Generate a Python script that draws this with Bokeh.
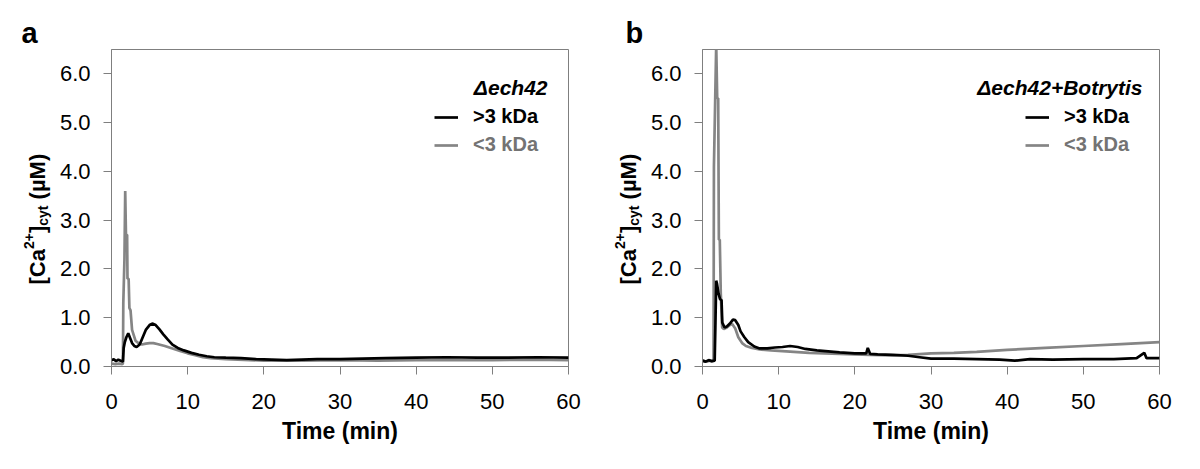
import math
from bokeh.plotting import figure
from bokeh.layouts import row
from bokeh.models import (Label, Legend, LegendItem, FixedTicker,
                          PrintfTickFormatter, Range1d, Title)
from bokeh.embed import file_html
from bokeh.resources import INLINE

# ---------------- data ----------------
x_ticks = [0, 10, 20, 30, 40, 50, 60]
y_ticks = [0, 1, 2, 3, 4, 5, 6]

# panel a : Δech42
a_hi_t = [0, 0.3, 0.6, 0.9, 1.2, 1.5, 1.6, 1.75, 1.95, 2.2, 2.4, 2.7, 3.0, 3.3, 3.7,
          4.1, 4.5, 5.0, 5.35, 5.8, 6.3, 6.8, 7.4, 8.0, 8.7, 9.5, 10.5, 11.5, 12.5,
          13.5, 15, 17, 19, 21, 23, 25, 27, 30, 33, 36, 40, 44, 48, 52, 56, 60]
a_hi_y = [0.13, 0.15, 0.11, 0.14, 0.12, 0.10, 0.38, 0.50, 0.60, 0.68, 0.60, 0.48,
          0.42, 0.40, 0.45, 0.60, 0.75, 0.85, 0.88, 0.85, 0.76, 0.66, 0.55, 0.45,
          0.38, 0.33, 0.28, 0.24, 0.21, 0.19, 0.18, 0.17, 0.15, 0.14, 0.13, 0.14,
          0.15, 0.15, 0.16, 0.17, 0.18, 0.19, 0.18, 0.18, 0.19, 0.18]
a_lo_t = [0, 0.5, 1.0, 1.4, 1.5, 1.55, 1.7, 1.8, 1.9, 2.05, 2.1, 2.25, 2.35, 2.5,
          2.7, 3.15, 3.6, 4.0, 4.5, 5.0, 5.5, 6.0, 7.0, 8.0, 9.0, 10.0, 11.0, 12.0,
          13, 15, 20, 25, 30, 35, 40, 45, 50, 55, 60]
a_lo_y = [0.06, 0.05, 0.06, 0.05, 0.06, 1.3, 2.2, 3.6, 2.7, 2.7, 1.8, 1.8, 1.2,
          1.15, 0.75, 0.53, 0.47, 0.45, 0.47, 0.48, 0.48, 0.46, 0.42, 0.37, 0.32,
          0.27, 0.23, 0.19, 0.17, 0.15, 0.12, 0.12, 0.13, 0.12, 0.13, 0.13, 0.13,
          0.14, 0.13]

# panel b : Δech42+Botrytis
b_hi_t = [0, 0.4, 0.8, 1.2, 1.6, 1.7, 1.8, 1.9, 2.1, 2.3, 2.5, 2.6, 2.9, 3.2, 3.6,
          4.0, 4.3, 4.7, 5.0, 5.5, 6.0, 6.8, 7.5, 8.5, 9.5, 10.5, 11.5, 12.5, 13.5,
          15, 16.5, 18, 20, 21.5, 21.7, 22, 23, 25, 27, 28.5, 30, 33, 36, 39, 41,
          43, 46, 50, 54, 57, 58, 58.3, 60]
b_hi_y = [0.12, 0.10, 0.13, 0.11, 0.12, 0.9, 1.76, 1.70, 1.50, 1.38, 1.36, 0.90,
          0.80, 0.82, 0.88, 0.96, 0.95, 0.85, 0.72, 0.60, 0.50, 0.41, 0.37, 0.37,
          0.39, 0.40, 0.42, 0.40, 0.36, 0.33, 0.31, 0.29, 0.27, 0.27, 0.38, 0.26,
          0.25, 0.24, 0.22, 0.19, 0.16, 0.16, 0.15, 0.14, 0.12, 0.15, 0.14, 0.15,
          0.15, 0.17, 0.28, 0.17, 0.17]
b_lo_t = [0, 0.5, 1.0, 1.3, 1.45, 1.5, 1.8, 1.93, 2.06, 2.15, 2.27, 2.4, 2.58, 2.8,
          3.2, 3.6, 3.9, 4.3, 4.7, 5.2, 5.7, 6.5, 7.5, 9, 10, 12, 14, 16, 18, 20,
          22, 25, 27, 30, 33, 36, 40, 45, 50, 55, 60]
b_lo_y = [0.12, 0.10, 0.12, 0.10, 0.15, 4.1, 6.6, 5.5, 5.5, 2.6, 2.6, 1.5, 0.80,
          0.77, 0.80, 0.85, 0.87, 0.78, 0.60, 0.48, 0.42, 0.38, 0.35, 0.33, 0.32,
          0.30, 0.28, 0.27, 0.26, 0.25, 0.24, 0.23, 0.24, 0.27, 0.28, 0.30, 0.34,
          0.38, 0.42, 0.46, 0.50]

series_labels = [">3 kDa", "<3 kDa"]

# ---------------- styling ----------------
FONT = "Liberation Sans"
BLACK = "#000000"
GRAY = "#858585"
GRAY_TEXT = "#737373"
AXIS = "#7f7f7f"
FW, FH = 457, 317
TOP = 49
H = 469
BOTTOM = H - TOP - FH
XMAX, YMAX = 60, 6.5
XPX = XMAX / FW
YPX = YMAX / FH


def strip(width, letter, letter_x, base_x):
    """Narrow text-only figure holding the panel letter and rotated y label.
    Its frame is aligned with the panel frames; 1 data unit = 1 pixel."""
    s = figure(width=width, height=H,
               x_range=Range1d(0, width), y_range=Range1d(BOTTOM, H - TOP),
               min_border_left=0, min_border_right=0,
               min_border_top=TOP, min_border_bottom=BOTTOM,
               x_axis_location=None, y_axis_location=None,
               output_backend="svg", toolbar_location=None)
    s.grid.visible = False
    s.outline_line_color = None
    s.background_fill_color = "white"
    s.border_fill_color = "white"
    s.add_layout(Title(text=letter, align="left", offset=letter_x, standoff=2,
                       text_font=FONT, text_font_size="29px", text_font_style="bold",
                       text_color=BLACK), "above")
    start = H - 284
    parts = [
        ("[Ca", 22, 0.0, 0),
        ("2+", 14, 35.4, -9),
        ("]", 22, 51.5, 0),
        ("cyt", 14, 58.8, 5),
        ("(µM)", 22, 85.1, 0),
    ]
    for txt, size, off, dx in parts:
        s.add_layout(Label(x=base_x + dx, y=start + off, text=txt,
                           angle=math.pi / 2, text_align="left",
                           text_baseline="alphabetic", text_font=FONT,
                           text_font_size=f"{size}px", text_font_style="bold",
                           text_color=BLACK))
    return s


def make_panel(title, title_dx, hi_t, hi_y, lo_t, lo_y, bl, br):
    p = figure(width=bl + FW + br, height=H,
               min_border_left=bl, min_border_right=br,
               min_border_top=TOP, min_border_bottom=BOTTOM,
               x_range=Range1d(0, XMAX), y_range=Range1d(0, YMAX),
               output_backend="svg", toolbar_location=None)
    p.xgrid.visible = False
    p.ygrid.visible = False
    p.outline_line_color = AXIS
    p.outline_line_width = 1
    p.background_fill_color = "white"
    p.border_fill_color = "white"

    for ax in (p.xaxis[0], p.yaxis[0]):
        ax.axis_line_color = AXIS
        ax.major_tick_line_color = AXIS
        ax.minor_tick_line_color = None
        ax.major_tick_out = 8
        ax.major_tick_in = 0
        ax.major_label_text_font = FONT
        ax.major_label_text_font_size = "22px"
        ax.major_label_text_color = BLACK
    p.xaxis.ticker = FixedTicker(ticks=x_ticks)
    p.yaxis.ticker = FixedTicker(ticks=y_ticks)
    p.yaxis.formatter = PrintfTickFormatter(format="%.1f")
    p.xaxis.major_label_standoff = 19
    p.yaxis.major_label_standoff = 13
    p.xaxis.axis_label = "Time (min)"
    p.xaxis.axis_label_text_font = FONT
    p.xaxis.axis_label_text_font_size = "23px"
    p.xaxis.axis_label_text_font_style = "bold"
    p.xaxis.axis_label_text_color = BLACK
    p.xaxis.axis_label_standoff = 6

    r_lo = p.line(lo_t, lo_y, line_color=GRAY, line_width=2.7)
    r_hi = p.line(hi_t, hi_y, line_color=BLACK, line_width=2.7)

    common = dict(background_fill_alpha=0, border_line_alpha=0, padding=0, margin=0,
                  spacing=0, glyph_width=24, glyph_height=20, label_height=20,
                  label_standoff=15, label_text_font=FONT,
                  label_text_font_size="20px", label_text_font_style="bold")
    leg1 = Legend(items=[LegendItem(label=series_labels[0], renderers=[r_hi])],
                  location=(323, 238), label_text_color=BLACK, **common)
    leg2 = Legend(items=[LegendItem(label=series_labels[1], renderers=[r_lo])],
                  location=(323, 210), label_text_color=GRAY_TEXT, **common)
    p.add_layout(leg1, "center")
    p.add_layout(leg2, "center")

    p.add_layout(Label(x=XMAX - title_dx * XPX, y=(FH - 38) * YPX, text=title,
                       text_align="right", text_baseline="alphabetic",
                       text_font=FONT, text_font_size="21px",
                       text_font_style="bold italic", text_color=BLACK))
    return p


sa = strip(52, "a", 21, 37)
pa = make_panel("Δech42", 21, a_hi_t, a_hi_y, a_lo_t, a_lo_y, 59, 32)
sb = strip(44, "b", 25, 28)
pb = make_panel("Δech42+Botrytis", 17, b_hi_t, b_hi_y, b_lo_t, b_lo_y, 58, 41)

layout = row(sa, pa, sb, pb)
open("out.html", "w").write(file_html(layout, INLINE))
